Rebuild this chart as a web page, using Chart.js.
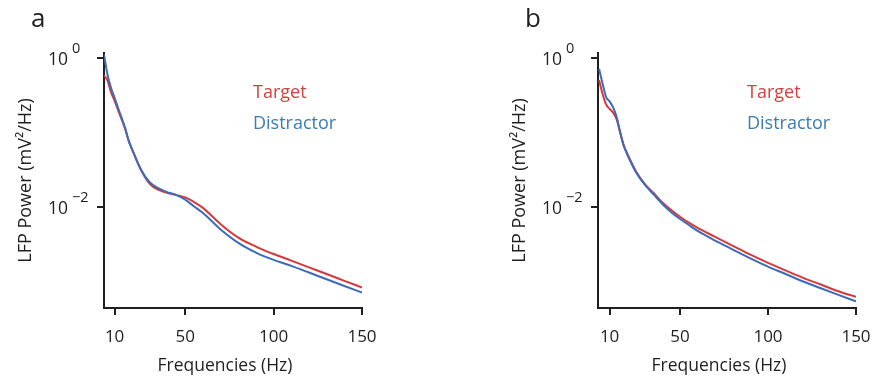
<!DOCTYPE html>
<html>
<head>
<meta charset="utf-8">
<script src="https://cdn.jsdelivr.net/npm/chart.js@4"></script>
<style>
    html, body { margin: 0; padding: 0; background: #fff; }
    #wrap { position: relative; width: 875px; height: 381px; overflow: hidden; }
    canvas { position: absolute; top: 0; }
</style>
</head>
<body>
<div id="wrap">
    <canvas id="panelA" width="437" height="381" style="left:0"></canvas>
    <canvas id="panelB" width="437" height="381" style="left:494px"></canvas>
</div>
<script>
// frequencies (Hz), shared by both panels
const freqs = [4, 6, 8, 10, 12, 14, 16, 18, 20, 25, 30, 35, 40, 45, 50, 55, 60, 70, 80, 90, 100, 110, 120, 130, 140, 150];

// panel a: LFP power (mV^2/Hz)
const targetA = [0.589, 0.501, 0.347, 0.269, 0.200, 0.151, 0.112, 0.0776, 0.0589, 0.0316, 0.0204, 0.0170, 0.0155, 0.0145, 0.0135,
    0.0117, 0.00977, 0.00589, 0.00389, 0.00295, 0.00234, 0.00191, 0.00155, 0.00126, 0.00102, 0.00083];
const distractorA = [1.12, 0.603, 0.398, 0.295, 0.214, 0.158, 0.115, 0.0776, 0.0589, 0.0316, 0.0214, 0.0178, 0.0158, 0.0145, 0.0126,
    0.0102, 0.00832, 0.00501, 0.00331, 0.00245, 0.00195, 0.00162, 0.00132, 0.00107, 0.00087, 0.00071];

// panel b
const targetB = [0.513, 0.331, 0.240, 0.209, 0.186, 0.151, 0.100, 0.0676, 0.0525, 0.0302, 0.0204, 0.0155, 0.0115, 0.00912, 0.00741,
    0.00617, 0.00525, 0.00398, 0.00302, 0.00229, 0.00178, 0.00141, 0.00112, 0.00091, 0.00074, 0.00062];
const distractorB = [0.724, 0.457, 0.302, 0.263, 0.219, 0.162, 0.102, 0.0676, 0.0513, 0.0295, 0.0200, 0.0148, 0.0110, 0.00851, 0.00692,
    0.00575, 0.00479, 0.00355, 0.00269, 0.00204, 0.00158, 0.00126, 0.00100, 0.00081, 0.00066, 0.00054];

const xTickValues = [10, 50, 100, 150];
const yTickValues = [1, 0.01];
const yTickExponents = ['0', '\u22122'];

const INK = '#1f1f1f';
const RED = '#d6383c';
const BLUE = '#3b6cb7';

Chart.defaults.font.family = "'Open Sans', sans-serif";
Chart.defaults.color = INK;

// 10^n tick labels, x title, legend text and panel letter
const annotations = {
    id: 'annotations',
    afterDraw(chart, args, opts) {
        const { ctx, chartArea } = chart;
        const yScale = chart.scales.y;
        ctx.save();
        ctx.fillStyle = INK;
        ctx.textAlign = 'left';
        ctx.textBaseline = 'alphabetic';

        ctx.font = "26px 'Open Sans'";
        ctx.fillText(opts.letter, chartArea.left - 73, 27);

        yTickValues.forEach((v, i) => {
            const py = yScale.getPixelForValue(v);
            const x0 = chartArea.left - 56;
            ctx.font = "17.5px 'Open Sans'";
            ctx.fillText('10', x0, py + 7);
            const w = ctx.measureText('10').width;
            ctx.font = "14.5px 'Open Sans'";
            ctx.fillText(yTickExponents[i], x0 + w + 4, py - 5);
        });

        ctx.font = "17.5px 'Open Sans'";
        ctx.textAlign = 'center';
        ctx.fillText('Frequencies (Hz)', (chartArea.left + chartArea.right) / 2 - 8, 371);

        ctx.textAlign = 'left';
        ctx.font = "18px 'Open Sans'";
        ctx.fillStyle = '#d2403f';
        ctx.fillText('Target', chartArea.left + 149, 98);
        ctx.fillStyle = '#3a7cb4';
        ctx.fillText('Distractor', chartArea.left + 149, 129);
        ctx.restore();
    }
};

function makePanel(id, letter, target, distractor, xMin) {
    const ctx = document.getElementById(id).getContext('2d');
    return new Chart(ctx, {
        type: 'line',
        data: {
            labels: freqs,
            datasets: [
                {
                    label: 'Target',
                    data: freqs.map((f, i) => ({ x: f, y: target[i] })),
                    borderColor: RED,
                    borderWidth: 2,
                    pointRadius: 0,
                    cubicInterpolationMode: 'monotone',
                    order: 1
                },
                {
                    label: 'Distractor',
                    data: freqs.map((f, i) => ({ x: f, y: distractor[i] })),
                    borderColor: BLUE,
                    borderWidth: 2,
                    pointRadius: 0,
                    cubicInterpolationMode: 'monotone',
                    order: 0
                }
            ]
        },
        options: {
            responsive: false,
            animation: false,
            layout: { padding: { top: 53, right: 75, bottom: 0, left: 0 } },
            plugins: {
                legend: { display: false },
                tooltip: { enabled: false },
                annotations: { letter: letter }
            },
            scales: {
                x: {
                    type: 'linear',
                    min: xMin,
                    max: 150,
                    afterBuildTicks: (s) => { s.ticks = xTickValues.map(v => ({ value: v })); },
                    afterFit: (s) => { s.height = 73; },
                    grid: { drawOnChartArea: false, drawTicks: true, tickLength: 7, color: INK, lineWidth: 2 },
                    border: { display: true, color: INK, width: 2 },
                    ticks: {
                        autoSkip: false,
                        maxRotation: 0,
                        padding: 12,
                        color: INK,
                        font: { size: 17 },
                        callback: (v) => String(v)
                    }
                },
                y: {
                    type: 'logarithmic',
                    min: 4.4e-4,
                    max: 1.18,
                    afterBuildTicks: (s) => { s.ticks = yTickValues.map(v => ({ value: v })); },
                    afterFit: (s) => { s.width = 104; },
                    grid: { drawOnChartArea: false, drawTicks: true, tickLength: 7, color: INK, lineWidth: 2 },
                    border: { display: true, color: INK, width: 2 },
                    ticks: { display: false },
                    title: {
                        display: true,
                        text: 'LFP Power (mV\u00B2/Hz)',
                        color: INK,
                        font: { size: 18 },
                        padding: { top: 15, bottom: 0 }
                    }
                }
            }
        },
        plugins: [annotations]
    });
}

makePanel('panelA', 'a', targetA, distractorA, 4);
makePanel('panelB', 'b', targetB, distractorB, 3.4);
</script>
</body>
</html>
